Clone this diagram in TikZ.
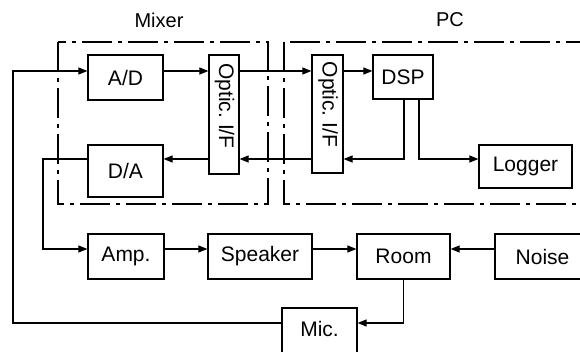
\documentclass[tikz,border=0pt]{standalone}
\usepackage{fontspec}
\setmainfont{Liberation Sans}
\usetikzlibrary{arrows.meta,calc}
\frenchspacing
\tikzset{
  blk/.style={draw, line width=1.2pt, rectangle, inner sep=0pt, font=\fontsize{21}{25}\selectfont},
  vtxt/.style={inner sep=0pt, font=\fontsize{21}{25}\selectfont},
  grp/.style={draw, line width=1.1pt, dash pattern=on 30pt off 6pt on 4pt off 6pt},
  lbl/.style={font=\fontsize{20}{24}\selectfont, inner sep=0pt},
  con/.style={line width=1.1pt, -{Triangle[length=9pt,width=7pt]}},
}
\begin{document}
\begin{tikzpicture}[x=1pt,y=-1pt]
\useasboundingbox (0,0) rectangle (580,352);
% group frames
\draw[grp] (58,42) rectangle (268,204);
\draw[grp] (284,42) rectangle (600,204);
\node[lbl] (mixerlbl) at (159,20) {Mixer};
\node[lbl] (pclbl) at (450,20) {PC};
% blocks
\node[blk, minimum width=75pt, minimum height=45pt] (AD) at (125.5,77.5) {A/D};
\node[blk, minimum width=75pt, minimum height=52pt] (DA) at (125.5,171) {D/A};
\node[blk, minimum width=30pt, minimum height=119pt] (OM) at (224,114.5) {};
\node[vtxt] (OMt) at (224.5,106) {\rotatebox{-90}{Optic.~I/F}};
\node[blk, minimum width=31pt, minimum height=118pt] (OP) at (327.5,114) {};
\node[vtxt] (OPt) at (328,104.5) {\rotatebox{-90}{Optic.~I/F}};
\node[blk, minimum width=60pt, minimum height=44pt] (DSP) at (403,77) {DSP};
\node[blk, minimum width=93pt, minimum height=43pt] (LOG) at (525.5,166.5) {Logger};
\node[blk, minimum width=76pt, minimum height=45pt] (AMP) at (126,256.5) {Amp.};
\node[blk, minimum width=104pt, minimum height=45pt] (SPK) at (260,256.5) {Speaker};
\node[blk, minimum width=93pt, minimum height=45pt] (ROOM) at (403.5,256.5) {Room};
\node[blk, minimum width=95pt, minimum height=45pt] (NOISE) at (542.5,256.5) {Noise};
\node[blk, minimum width=75pt, minimum height=52pt, text depth=10pt] (MIC) at (319.5,334) {Mic.};
% helper coordinates
\coordinate (yA) at (0,71);
\coordinate (yB) at (0,159);
\coordinate (yC) at (0,249);
\coordinate (yD) at (0,323);
\coordinate (xL) at (13,0);
\coordinate (xD) at (43,0);
% connectors
\draw[con] (yD -| MIC.west) -- (yD -| xL) -- (yA -| xL) -- (yA -| AD.west);
\draw[con] (yA -| AD.east) -- (yA -| OM.west);
\draw[con] (yA -| OM.east) -- (yA -| OP.west);
\draw[con] (yA -| OP.east) -- (yA -| DSP.west);
\draw[con] ($(DSP.south)+(1,0)$) |- (yB -| OP.east);
\draw[con] ($(DSP.south)+(16,0)$) |- (yB -| LOG.west);
\draw[con] (yB -| OP.west) -- (yB -| OM.east);
\draw[con] (yB -| OM.west) -- (yB -| DA.east);
\draw[con] (yB -| DA.west) -- (yB -| xD) -- (yC -| xD) -- (yC -| AMP.west);
\draw[con] (yC -| AMP.east) -- (yC -| SPK.west);
\draw[con] (yC -| SPK.east) -- (yC -| ROOM.west);
\draw[con] (yC -| NOISE.west) -- (yC -| ROOM.east);
\draw[con] (ROOM.south) |- (yD -| MIC.east);
\end{tikzpicture}
\end{document}
